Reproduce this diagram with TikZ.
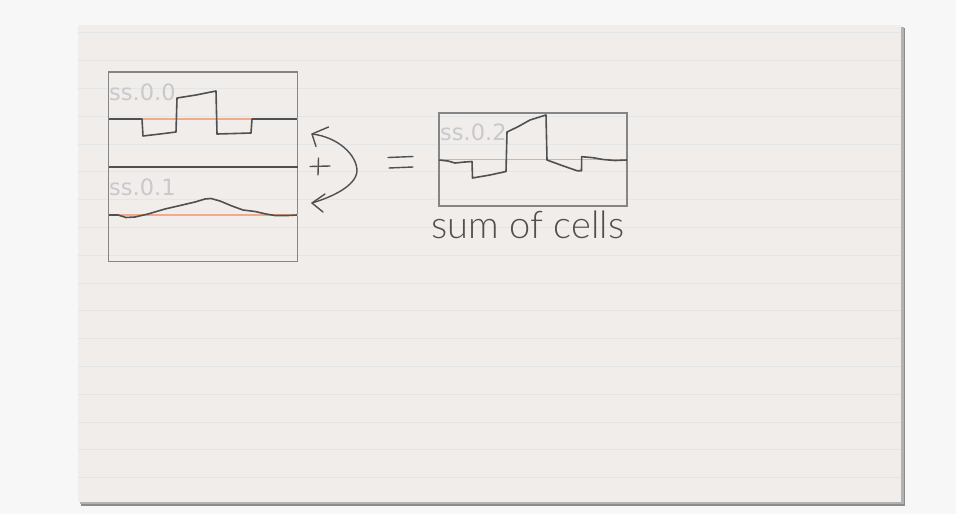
\documentclass[tikz,border=0pt]{standalone}
\usepackage{fontspec}
\setmainfont{DejaVu Sans}
\newfontfamily\handfont{Lato Light}
\definecolor{deskgray}{HTML}{F7F7F7}
\definecolor{paper}{HTML}{F1EDEA}
\definecolor{rulegray}{HTML}{E3E5E6}
\definecolor{framegray}{HTML}{858585}
\definecolor{ink}{HTML}{505050}
\definecolor{baseorange}{HTML}{F2AA88}
\definecolor{labelgray}{HTML}{C8C8CD}
\begin{document}
\begin{tikzpicture}[x=1pt,y=-1pt,
  cellbox/.style={draw=framegray, line width=1.4pt, anchor=north west, inner sep=0pt, outer sep=0pt},
  trace/.style={draw=ink, line width=1.6pt, line join=round},
  baseline/.style={draw=baseorange, line width=1.5pt},
  cellname/.style={text=labelgray, font=\fontsize{22.5}{22.5}\selectfont, anchor=base west, inner sep=0pt},
  hand/.style={draw=ink, line width=1.4pt, line cap=round, line join=round},
  handtext/.style={text=ink, font=\handfont\fontsize{38}{38}\selectfont, inner sep=0pt}]

\useasboundingbox (0,0) rectangle (956,514);
\fill[deskgray] (0,0) rectangle (956,514);

% sheet of paper with its shadow and ruled lines
\fill[black!45] (81,28) rectangle (905,506);
\fill[black!30] (80,27) rectangle (903.5,504);
\fill[paper] (78,25) rectangle (901,502);
\foreach \k in {0,...,16}
  \draw[rulegray, line width=0.8pt] (78,32.7+27.8*\k) -- (901,32.7+27.8*\k);

% cell frames
\node[cellbox, minimum width=189pt, minimum height=95pt] (cellA) at (108.5,72) {};
\node[cellbox, minimum width=189pt, minimum height=94.5pt] (cellB) at (108.5,167) {};
\node[cellbox, minimum width=188pt, minimum height=93pt] (cellC) at (439,113) {};
\draw[ink, line width=2pt] (cellA.south west) -- (cellA.south east);

% cell names
\node[cellname] (nameA) at (109,100) {ss.0.0};
\node[cellname] (nameB) at (109,195) {ss.0.1};
\node[cellname] (nameC) at (440,140) {ss.0.2};

% zero lines
\draw[baseline] (cellA.west |- 0,119) -- (cellA.east |- 0,119);
\draw[baseline] (cellB.west |- 0,215) -- (cellB.east |- 0,215);
\draw[baseline] (cellC.west |- 0,159.5) -- (cellC.east |- 0,159.5);

% square pulse
\draw[trace] (109,119) -- (142,119) -- (143,136) -- (160,134) -- (176,132) -- (177,98)
  -- (196,95) -- (216,91) -- (217,134) -- (235,133.5) -- (251,133) -- (252,119) -- (297,119);

% smooth bump
\draw[trace] (109,215) -- (118,215) -- (126,217.5) -- (135,217) -- (148,214) -- (165,209)
  -- (178,206) -- (195,202) -- (205,199) -- (211,198.5) -- (220,201) -- (232,206)
  -- (243,210) -- (255,211.5) -- (266,214) -- (275,215.5) -- (288,215.5) -- (297,215);

% sum of both
\draw[trace] (439,160) -- (448,161) -- (455,163) -- (465,162) -- (472,161.5) -- (472.5,178)
  -- (490,175) -- (506,171.5) -- (507,132) -- (518,126.7) -- (530,120) -- (546,115)
  -- (547,160) -- (562,165.5) -- (577,170.7) -- (581.5,170.7) -- (581.7,156.7)
  -- (593,157.7) -- (603,159.5) -- (615,160.5) -- (627,160);

% curved double arrow with plus sign
\coordinate (arrTop) at (312,134);
\coordinate (arrBot) at (312,203);
\draw[hand] (arrTop) .. controls (338,137) and (357,155) .. (357,171)
  .. controls (356,186) and (332,197) .. (arrBot);
\draw[hand] (328.5,127) -- (arrTop) -- (316,146.5);
\draw[hand] (325,194) -- (arrBot) -- (323,212);
\draw[hand] (310,166.5) -- (330,166);
\draw[hand] (318.5,158) -- (318,175);

% equals sign
\draw[hand] (388,157.5) -- (413,156.5);
\draw[hand] (389,168) -- (413,167);

% caption
\node[handtext, anchor=base] (caption) at (528,238) {sum of cells};
\end{tikzpicture}
\end{document}
